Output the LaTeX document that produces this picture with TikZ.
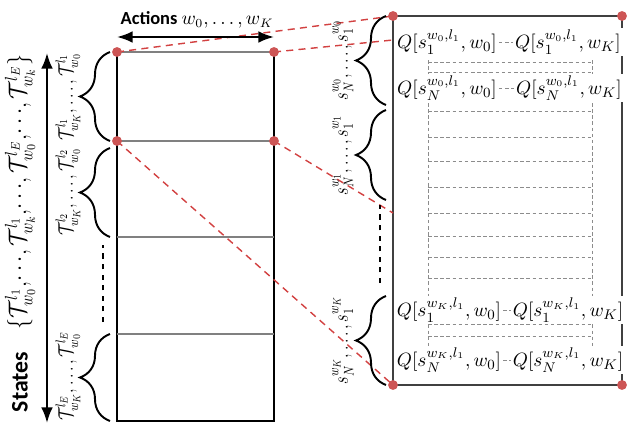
\documentclass[tikz,border=0pt]{standalone}
\usepackage{amsmath}
\usepackage{amssymb}
\usepackage{fontspec}
\newfontfamily\sanslabel{Carlito}
\usepackage{tikz}
\usetikzlibrary{
	arrows.meta,
	decorations.pathreplacing,
	positioning
}
\definecolor{dotred}{RGB}{205,85,85}
\definecolor{linered}{RGB}{210,65,65}
\definecolor{gridgray}{RGB}{140,140,140}

\begin{document}
\begin{tikzpicture}[x=0.02cm, y=0.02cm,
		qlabel/.style={inner sep=1pt, fill=white, font=\fontsize{11}{13}\selectfont},
		vlabel/.style={rotate=90, xscale=0.78, inner sep=0pt, font=\fontsize{12}{14}\selectfont},
		bracedraw/.style={decorate, decoration={brace, amplitude=0.6cm}, line width=1.1pt},
		griddash/.style={gridgray, dash pattern=on 2pt off 1.5pt, line width=0.5pt},
		reddash/.style={linered, dash pattern=on 4pt off 3pt, line width=0.8pt},
		bigarrow/.style={{Latex}-{Latex}, line width=1.3pt}
	]
		\useasboundingbox (0,0) rectangle (627,424);
		% 左侧表格的角点
		\coordinate (LT) at (117,372);
		\coordinate (RT) at (274,372);
		\coordinate (L2) at (117,283);
		\coordinate (R2) at (274,283);
		\coordinate (L3) at (117,187);
		\coordinate (R3) at (274,187);
		\coordinate (L4) at (117,90);
		\coordinate (R4) at (274,90);
		\coordinate (LB) at (117,3);
		\coordinate (RB) at (274,3);
		% 右侧表格的角点
		\coordinate (QTL) at (393,408);
		\coordinate (QTR) at (622,408);
		\coordinate (QBL) at (393,39);
		\coordinate (QBR) at (622,39);
		\coordinate (QA) at (393,384);
		\coordinate (QB) at (393,211);
		% 左侧表格
		\draw[line width=0.8pt] (LT)--(LB)--(RB)--(RT);
		\draw[line width=1.3pt, gray] (LT)--(RT);
		\draw[line width=1.3pt, gray] (L2)--(R2);
		\draw[line width=1.3pt, gray] (L3)--(R3);
		\draw[line width=1.3pt, gray] (L4)--(R4);
		% 右侧表格
		\draw[line width=1pt, black!75] (QTL) rectangle (QBR);
		\foreach \y in {362,352,313,287,263,237,211,188,167,146,100,88}
			\draw[griddash] (428,\y)--(592,\y);
		\draw[griddash] (428,364)--(428,77);
		\draw[griddash] (592,364)--(592,77);
		\node[qlabel] (q11) at (447,382) {$Q[s_1^{w_0,l_1},w_0]$};
		\node[qlabel] (q1K) at (568,382) {$Q[s_1^{w_0,l_1},w_K]$};
		\node[qlabel] (qN1) at (447,336) {$Q[s_N^{w_0,l_1},w_0]$};
		\node[qlabel] (qNK) at (569,336) {$Q[s_N^{w_0,l_1},w_K]$};
		\node[qlabel] (r11) at (449,114) {$Q[s_1^{w_K,l_1},w_0]$};
		\node[qlabel] (r1K) at (568,114) {$Q[s_1^{w_K,l_1},w_K]$};
		\node[qlabel] (rN1) at (449,64) {$Q[s_N^{w_K,l_1},w_0]$};
		\node[qlabel] (rNK) at (568,64) {$Q[s_N^{w_K,l_1},w_K]$};
		\draw[griddash] (q11)--(q1K);
		\draw[griddash] (qN1)--(qNK);
		\draw[griddash] (r11)--(r1K);
		\draw[griddash] (rN1)--(rNK);
		% 红色虚线
		\draw[reddash] (LT)--(QTL);
		\draw[reddash] (RT)--(QA);
		\draw[reddash] (L2)--(QBL);
		\draw[reddash] (R2)--(QB);
		% 红点
		\foreach \p in {LT,RT,L2,R2,QTL,QTR,QBL,QBR}
			\fill[dotred] (\p) circle (2.8pt);
		% 动作箭头
		\coordinate (actL) at (117,387);
		\coordinate (actR) at (274,387);
		\draw[bigarrow] (actL)--(actR);
		\node (actions) at (197,404) {\fontsize{10.5}{12}\selectfont\sanslabel\bfseries Actions \mdseries$w_0,\dots,w_K$};
		% 状态箭头
		\coordinate (stB) at (47,1);
		\coordinate (stT) at (47,371);
		\draw[bigarrow] (stB)--(stT);
		\node[rotate=90] (states) at (20,42) {\fontsize{13.5}{15}\selectfont\sanslabel\bfseries States};
		\node[rotate=90, xscale=0.87, inner sep=0pt, font=\fontsize{14.5}{17}\selectfont] (tset) at (20,232)
			{$\{\mathcal{T}^{l_1}_{w_0},\!\cdots\!,\mathcal{T}^{l_1}_{w_k},\!\cdots\!,\mathcal{T}^{l_E}_{w_0},\!\cdots\!,\mathcal{T}^{l_E}_{w_k}\}$};
		% 左侧括号
		\draw[bracedraw] (110,283)--(110,372);
		\draw[bracedraw] (110,187)--(110,276);
		\draw[bracedraw] (110,3)--(110,90);
		\draw[dashed, line width=0.8pt] (103,102)--(103,179);
		\node[vlabel] (t1) at (68,327) {$\mathcal{T}^{l_1}_{w_K},\dots,\mathcal{T}^{l_1}_{w_0}$};
		\node[vlabel] (t2) at (68,232) {$\mathcal{T}^{l_2}_{w_K},\dots,\mathcal{T}^{l_2}_{w_0}$};
		\node[vlabel] (tE) at (68,48) {$\mathcal{T}^{l_E}_{w_K},\dots,\mathcal{T}^{l_E}_{w_0}$};
		% 右侧括号
		\draw[bracedraw] (386,319)--(386,408);
		\draw[bracedraw] (386,224)--(386,314);
		\draw[bracedraw] (386,39)--(386,128);
		\draw[dashed, line width=0.8pt] (380,141)--(380,219);
		\node[vlabel] (s0) at (343,364) {$s_N^{w_0},\dots,s_1^{w_0}$};
		\node[vlabel] (s1) at (343,269) {$s_N^{w_1},\dots,s_1^{w_1}$};
		\node[vlabel] (sK) at (343,84) {$s_N^{w_K},\dots,s_1^{w_K}$};
	\end{tikzpicture}
\end{document}
